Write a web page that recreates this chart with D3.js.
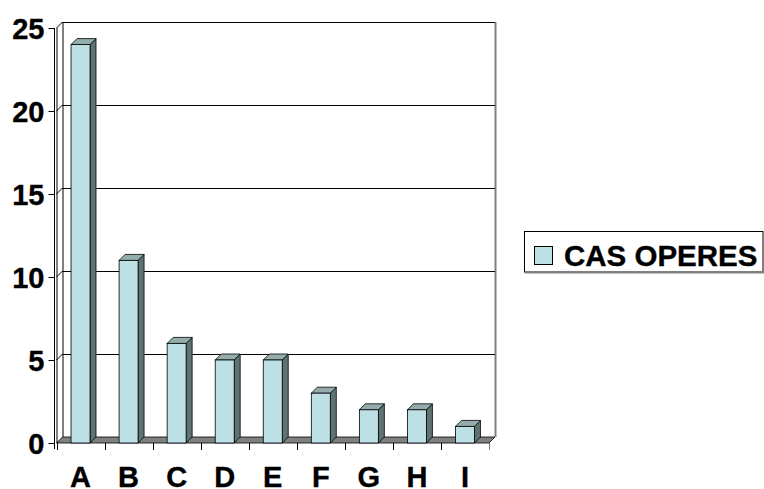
<!DOCTYPE html>
<html>
<head>
<meta charset="utf-8">
<script src="https://cdn.jsdelivr.net/npm/d3@7"></script>
<style>
  html, body { margin: 0; padding: 0; background: #fff; }
  svg { display: block; }
  text { font-family: "Liberation Sans", Arial, sans-serif; font-weight: bold; fill: #000; stroke: #000; stroke-width: 0.35px; }
</style>
</head>
<body>
<svg id="chart" width="764" height="489"></svg>
<script>
// Operated cases per category
const categories = ["A", "B", "C", "D", "E", "F", "G", "H", "I"];
const casOperes = [24, 11, 6, 5, 5, 3, 2, 2, 1];
const yTicks = [0, 5, 10, 15, 20, 25];
const seriesName = "CAS OPERES";

const plotLeft = 56.5, plotRight = 489, plotBottom = 443, plotTop = 28;
const axisX = 54;
const dx = 6, dy = -6;          // 3D depth offset
const innerPad = 0.605;

const colFront = "#bce0e4", colSide = "#5f7373", colTop = "#93adad";
const colFloor = "#808080";

const svg = d3.select("#chart");

const x = d3.scaleBand()
  .domain(categories)
  .range([plotLeft, plotRight])
  .paddingInner(innerPad)
  .paddingOuter(innerPad / 2);

const y = d3.scaleLinear().domain([0, 25]).range([plotBottom, plotTop]);

const step = x.step();
const bw = x.bandwidth();

const g = svg.append("g");

// left wall front edge
g.append("line")
  .attr("x1", plotLeft + 0.5).attr("y1", y(25))
  .attr("x2", plotLeft + 0.5).attr("y2", y(0))
  .attr("stroke", "#000");

// back wall outline
g.append("line")
  .attr("x1", plotLeft + dx).attr("y1", y(25) + dy + 0.5)
  .attr("x2", plotRight + dx).attr("y2", y(25) + dy + 0.5)
  .attr("stroke", "#000");
g.append("line")
  .attr("x1", plotRight + dx + 0.5).attr("y1", y(25) + dy)
  .attr("x2", plotRight + dx + 0.5).attr("y2", y(0) + dy)
  .attr("stroke", "#808080").attr("stroke-width", 2);
g.append("line")
  .attr("x1", plotLeft + dx + 0.5).attr("y1", y(25) + dy)
  .attr("x2", plotLeft + dx + 0.5).attr("y2", y(0) + dy)
  .attr("stroke", "#000");

// gridlines on back wall + side wall diagonals
const grid = g.selectAll(".grid").data(yTicks.filter(v => v > 0)).enter().append("g");
grid.append("line")
  .attr("x1", plotLeft + dx).attr("x2", plotRight + dx)
  .attr("y1", d => Math.round(y(d) + dy) + 0.5).attr("y2", d => Math.round(y(d) + dy) + 0.5)
  .attr("stroke", "#000");
grid.append("line")
  .attr("x1", plotLeft).attr("y1", d => y(d))
  .attr("x2", plotLeft + dx).attr("y2", d => y(d) + dy)
  .attr("stroke", "#000");

// floor
g.append("path")
  .attr("d", `M${plotLeft},${y(0)} L${plotRight},${y(0)} L${plotRight + dx},${y(0) + dy} L${plotLeft + dx},${y(0) + dy} Z`)
  .attr("fill", colFloor).attr("stroke", "#000").attr("stroke-width", 0.8);

// bars
const bars = g.selectAll(".bar").data(categories.map((c, i) => ({ c, v: casOperes[i] })))
  .enter().append("g");
bars.append("path") // side face
  .attr("d", d => {
    const x1 = x(d.c) + bw, yt = y(d.v), yb = y(0);
    return `M${x1},${yb} L${x1 + dx},${yb + dy} L${x1 + dx},${yt + dy} L${x1},${yt} Z`;
  })
  .attr("fill", colSide).attr("stroke", "#000").attr("stroke-width", 0.8);
bars.append("path") // top face
  .attr("d", d => {
    const x0 = x(d.c), x1 = x0 + bw, yt = y(d.v);
    return `M${x0},${yt} L${x1},${yt} L${x1 + dx},${yt + dy} L${x0 + dx},${yt + dy} Z`;
  })
  .attr("fill", colTop).attr("stroke", "#000").attr("stroke-width", 0.8);
bars.append("rect") // front face
  .attr("x", d => x(d.c)).attr("y", d => y(d.v))
  .attr("width", bw).attr("height", d => y(0) - y(d.v))
  .attr("fill", colFront).attr("stroke", "#000").attr("stroke-width", 0.8);

// value axis
const yAxis = svg.append("g")
  .attr("transform", `translate(${axisX + 0.5},0)`)
  .call(d3.axisLeft(y).tickValues(yTicks).tickSize(6).tickPadding(4).tickFormat(d3.format("d")));
yAxis.select(".domain").attr("stroke", "#000").attr("d", `M0,${y(25)}V${y(0) + 6}`);
yAxis.selectAll("text").style("font-size", "29px").attr("dy", "0.36em");

// category axis: labels at centres, ticks at boundaries
const xAxis = svg.append("g")
  .attr("transform", `translate(0,${plotBottom})`)
  .call(d3.axisBottom(x).tickSize(0).tickPadding(0));
xAxis.select(".domain").remove();
xAxis.selectAll("text").style("font-size", "29px").attr("dy", null).attr("y", 44);
const bounds = d3.range(categories.length + 1).map(i => plotLeft + i * step);
xAxis.selectAll(".bt").data(bounds).enter().append("line")
  .attr("x1", d => Math.round(d) + 0.5).attr("x2", d => Math.round(d) + 0.5)
  .attr("y1", 0).attr("y2", 7)
  .attr("stroke", (d, i) => i === categories.length ? "#808080" : "#000");

// legend
const lg = svg.append("g").attr("transform", "translate(524,231)");
lg.append("rect").attr("x", 0.5).attr("y", 0.5).attr("width", 238.5).attr("height", 40.5)
  .attr("fill", "#fff").attr("stroke", "#000");
lg.append("line").attr("x1", 1).attr("x2", 240).attr("y1", 41.5).attr("y2", 41.5)
  .attr("stroke", "#808080").attr("stroke-width", 2);
lg.append("line").attr("x1", 239.5).attr("x2", 239.5).attr("y1", 1).attr("y2", 42)
  .attr("stroke", "#808080").attr("stroke-width", 2);
lg.append("rect").attr("x", 10.5).attr("y", 15.5).attr("width", 18).attr("height", 18)
  .attr("fill", colFront).attr("stroke", "#000").style("stroke-width", "1px");
lg.append("text").attr("x", 40).attr("y", 35).style("font-size", "29.5px").text(seriesName);
</script>
</body>
</html>
